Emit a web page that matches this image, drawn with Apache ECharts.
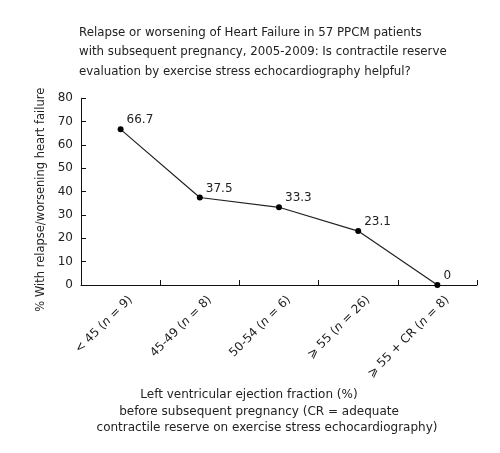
<!DOCTYPE html>
<html>
<head>
<meta charset="utf-8">
<script src="https://cdn.jsdelivr.net/npm/echarts@6/dist/echarts.min.js"></script>
<style>html,body{margin:0;padding:0;background:#fff;}#c{width:500px;height:453px;}</style>
</head>
<body>
<div id="c"></div>
<script>
const categories = ['< 45 ({i|n} = 9)', '45-49 ({i|n} = 8)', '50-54 ({i|n} = 6)', '⩾ 55 ({i|n} = 26)', '⩾ 55 + CR ({i|n} = 8)'];
const values = [66.7, 37.5, 33.3, 23.1, 0];
const yTicks = [0, 10, 20, 30, 40, 50, 60, 70, 80];
const titleText = 'Relapse or worsening of Heart Failure in 57 PPCM patients\nwith subsequent pregnancy, 2005-2009: Is contractile reserve\nevaluation by exercise stress echocardiography helpful?';
const yName = '% With relapse/worsening heart failure';
const xNameLines = ['Left ventricular ejection fraction (%)', 'before subsequent pregnancy (CR = adequate', 'contractile reserve on exercise stress echocardiography)'];

const FONT = 'DejaVu Sans';
const TXT = '#222';
const chart = echarts.init(document.getElementById('c'), null, {renderer: 'canvas'});
chart.setOption({
  backgroundColor: '#fff',
  animation: false,
  title: {
    text: titleText,
    left: 79, top: 23, padding: 0,
    textStyle: {fontFamily: FONT, fontSize: 11.8, fontWeight: 'normal', color: TXT, lineHeight: 19.5}
  },
  graphic: [
    {type: 'text', x: 249, y: 395, style: {text: xNameLines[0], font: '12px "DejaVu Sans"', fill: TXT, align: 'center', verticalAlign: 'middle'}},
    {type: 'text', x: 259, y: 412, style: {text: xNameLines[1], font: '12px "DejaVu Sans"', fill: TXT, align: 'center', verticalAlign: 'middle'}},
    {type: 'text', x: 267, y: 428, style: {text: xNameLines[2], font: '12px "DejaVu Sans"', fill: TXT, align: 'center', verticalAlign: 'middle'}}
  ],
  grid: {left: 81, right: 23, top: 98.3, bottom: 168, containLabel: false},
  xAxis: {
    type: 'category',
    data: categories,
    boundaryGap: true,
    axisLine: {lineStyle: {color: '#111', width: 1}},
    axisTick: {show: true, inside: true, length: 5, lineStyle: {color: '#111'}},
    axisLabel: {
      interval: 0, rotate: 45, margin: 3, padding: [28, 0, 0, 0],
      fontFamily: FONT, fontSize: 12, color: TXT,
      rich: {i: {fontStyle: 'italic', fontFamily: FONT, fontSize: 12, color: TXT}}
    },
    splitLine: {show: false}
  },
  yAxis: {
    type: 'value',
    min: 0, max: 80, interval: 10,
    name: yName,
    nameLocation: 'middle',
    nameGap: 34,
    nameTextStyle: {fontFamily: FONT, fontSize: 11.5, color: TXT, padding: [0, 16, 0, 0]},
    axisLine: {show: true, lineStyle: {color: '#111', width: 1}},
    axisTick: {show: true, inside: true, length: 5, lineStyle: {color: '#111'}},
    axisLabel: {fontFamily: FONT, fontSize: 12, color: TXT, margin: 8,
      customValues: yTicks},
    splitLine: {show: false}
  },
  series: [{
    type: 'line',
    data: values,
    symbol: 'circle',
    symbolSize: 6,
    itemStyle: {color: '#000'},
    lineStyle: {color: '#222', width: 1.2},
    label: {show: true, position: 'right', offset: [-2, -9], fontFamily: FONT, fontSize: 12, color: TXT}
  }]
});
</script>
</body>
</html>
